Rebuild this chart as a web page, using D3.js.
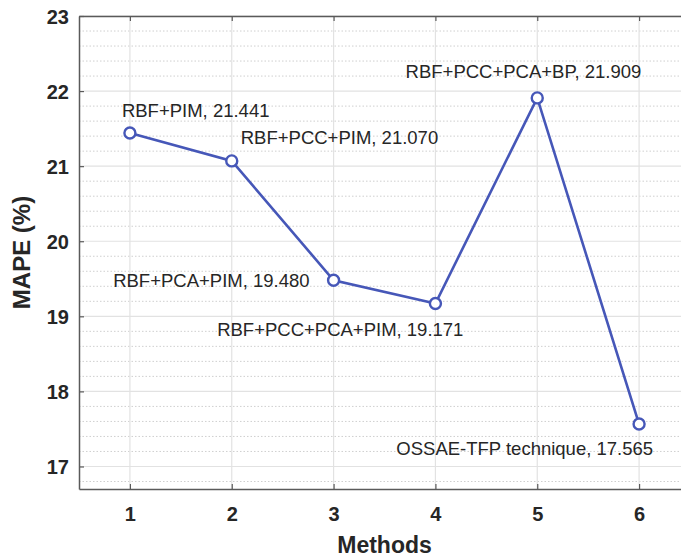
<!DOCTYPE html>
<html>
<head>
<meta charset="utf-8">
<script src="https://cdn.jsdelivr.net/npm/d3@7"></script>
<style>
  body { margin: 0; background: #fff; }
  svg { display: block; font-family: "Liberation Sans", Arial, sans-serif; }
</style>
</head>
<body>
<svg id="chart" width="681" height="557"></svg>
<script>
const methods = [1, 2, 3, 4, 5, 6];
const mape = [21.441, 21.070, 19.480, 19.171, 21.909, 17.565];
const names = ["RBF+PIM", "RBF+PCC+PIM", "RBF+PCA+PIM", "RBF+PCC+PCA+PIM", "RBF+PCC+PCA+BP", "OSSAE-TFP technique"];
const yTicks = [17, 18, 19, 20, 21, 22, 23];

// label placement relative to each point (anchor, dx, dy)
const labelPos = [
  ["start", -8, -16],
  ["start", 9, -17],
  ["end", -24, 7],
  ["end", 28, 33],
  ["end", 104, -20],
  ["end", 14, 31]
];

const svg = d3.select("#chart");
const plotL = 79, plotR = 690, plotT = 16, plotB = 489;

const x = d3.scaleLinear().domain([0.5, 6.5]).range([plotL, plotR]);
const y = d3.scaleLinear().domain([16.7, 23]).range([plotB, plotT]);

const lineColor = "#4657b8";

// minor grid (dotted)
svg.append("g")
  .selectAll("line")
  .data(y.ticks(32).filter(d => Math.abs(d - Math.round(d)) > 0.01))
  .enter().append("line")
  .attr("x1", plotL).attr("x2", plotR)
  .attr("y1", d => y(d)).attr("y2", d => y(d))
  .attr("stroke", "#cfcfcf")
  .attr("stroke-width", 1)
  .attr("stroke-dasharray", "1.5,2");

// major grid
svg.append("g")
  .selectAll("line")
  .data(yTicks)
  .enter().append("line")
  .attr("x1", plotL).attr("x2", plotR)
  .attr("y1", d => y(d)).attr("y2", d => y(d))
  .attr("stroke", "#e2e2e2")
  .attr("stroke-width", 1.2);
svg.append("g")
  .selectAll("line")
  .data(methods)
  .enter().append("line")
  .attr("x1", d => x(d)).attr("x2", d => x(d))
  .attr("y1", plotT).attr("y2", plotB)
  .attr("stroke", "#e2e2e2")
  .attr("stroke-width", 1.2);

// axes (ticks inward, box style)
const axisColor = "#5a5a5a";
const xAxis = svg.append("g")
  .attr("transform", `translate(0,${plotB})`)
  .call(d3.axisBottom(x).tickValues(methods).tickFormat(d3.format("d"))
    .tickSizeInner(-5).tickSizeOuter(0).tickPadding(18));
const xTop = svg.append("g")
  .attr("transform", `translate(0,${plotT})`)
  .call(d3.axisTop(x).tickValues(methods).tickSizeInner(-5).tickSizeOuter(0).tickFormat(""));
const yAxis = svg.append("g")
  .attr("transform", `translate(${plotL},0)`)
  .call(d3.axisLeft(y).tickValues(yTicks).tickFormat(d3.format("d"))
    .tickSizeInner(-5).tickSizeOuter(0).tickPadding(10));

[xAxis, xTop, yAxis].forEach(g => {
  g.select(".domain").attr("stroke", axisColor).attr("stroke-width", 1.5);
  g.selectAll(".tick line").attr("stroke", axisColor).attr("stroke-width", 1.2);
  g.selectAll(".tick text")
    .attr("fill", "#262626")
    .style("font-size", "20px")
    .style("font-weight", "bold")
    .style("font-family", "'Liberation Sans', Arial, sans-serif");
});
yAxis.selectAll(".tick text").attr("dy", "0.36em");

// axis titles
svg.append("text")
  .attr("x", (plotL + plotR) / 2)
  .attr("y", 553)
  .attr("text-anchor", "middle")
  .attr("fill", "#262626")
  .style("font-size", "23px")
  .style("font-weight", "bold")
  .text("Methods");
svg.append("text")
  .attr("transform", `translate(30,${(plotT + plotB) / 2}) rotate(-90)`)
  .attr("text-anchor", "middle")
  .attr("fill", "#262626")
  .style("font-size", "24px")
  .style("font-weight", "bold")
  .text("MAPE (%)");

// series
const pts = methods.map((m, i) => ({ m, v: mape[i], name: names[i], pos: labelPos[i] }));

svg.append("path")
  .datum(pts)
  .attr("fill", "none")
  .attr("stroke", lineColor)
  .attr("stroke-width", 2.6)
  .attr("d", d3.line().x(d => x(d.m)).y(d => y(d.v)));

svg.append("g")
  .selectAll("circle")
  .data(pts)
  .enter().append("circle")
  .attr("cx", d => x(d.m))
  .attr("cy", d => y(d.v))
  .attr("r", 5.5)
  .attr("fill", "#fff")
  .attr("stroke", lineColor)
  .attr("stroke-width", 2.4);

svg.append("g")
  .selectAll("text")
  .data(pts)
  .enter().append("text")
  .attr("x", d => x(d.m) + d.pos[1])
  .attr("y", d => y(d.v) + d.pos[2])
  .attr("text-anchor", d => d.pos[0])
  .attr("fill", "#262626")
  .style("font-size", "18.5px")
  .text(d => d.name + ", " + d3.format(".3f")(d.v));
</script>
</body>
</html>
